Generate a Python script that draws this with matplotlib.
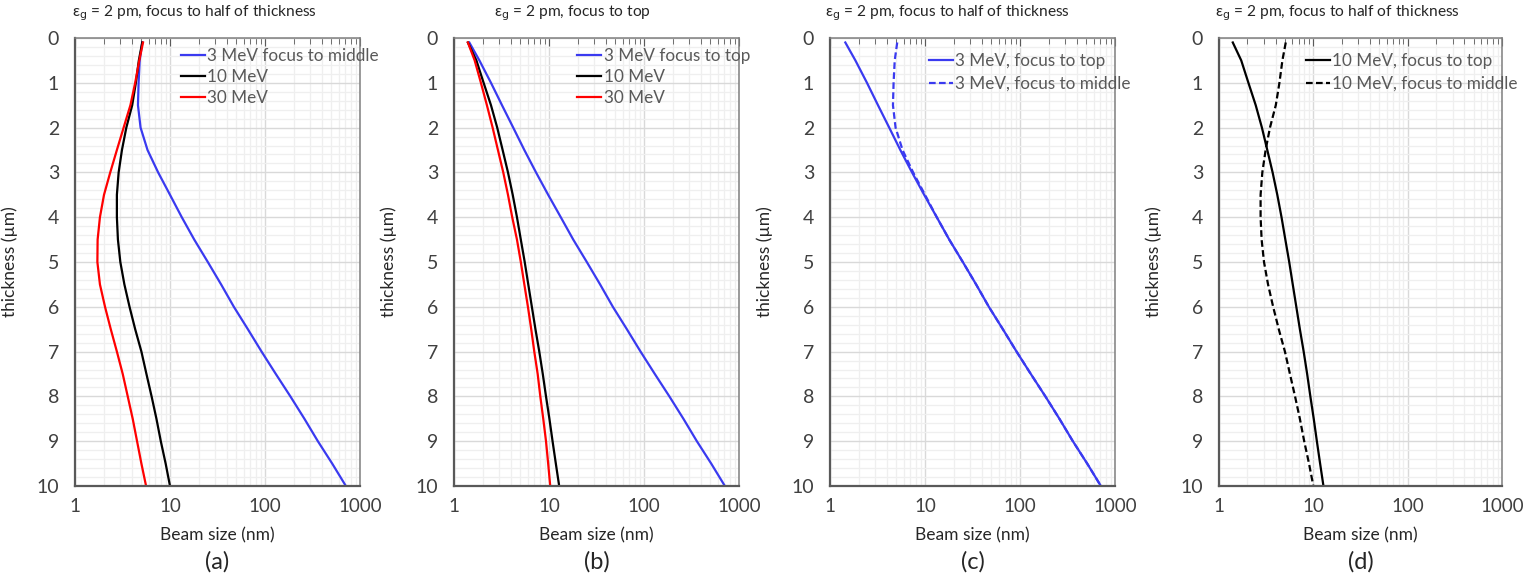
import matplotlib
matplotlib.use("Agg")
import matplotlib.pyplot as plt
from matplotlib.ticker import LogLocator, NullFormatter, FixedLocator, MultipleLocator

plt.rcParams['font.family'] = ['Lato', 'DejaVu Sans']

# thickness (µm)
thickness = [0.1, 0.5, 1.0, 1.5, 2.0, 2.5, 3.0, 3.5, 4.0, 4.5, 5.0,
             5.5, 6.0, 6.5, 7.0, 7.5, 8.0, 8.5, 9.0, 9.5, 10.0]

# beam size (nm)
mev3_middle = [5.1, 4.8, 4.67, 4.6, 4.9, 5.8, 7.5, 10.0, 13.3, 18.0, 25.0,
               34.5, 47.0, 66.0, 92.0, 130.0, 185.0, 260.0, 360.0, 510.0, 710.0]
mev10_middle = [5.1, 4.7, 4.37, 4.0, 3.47, 3.12, 2.88, 2.76, 2.76, 2.83, 3.0,
                3.31, 3.75, 4.3, 5.0, 5.65, 6.4, 7.2, 8.0, 9.0, 10.0]
mev30_middle = [5.2, 4.75, 4.3, 3.83, 3.25, 2.76, 2.35, 2.02, 1.83, 1.73, 1.72,
                1.83, 2.07, 2.38, 2.76, 3.18, 3.59, 4.05, 4.5, 5.0, 5.6]
mev3_top = [1.45, 1.85, 2.45, 3.2, 4.2, 5.5, 7.3, 9.8, 13.3, 18.0, 25.0,
            34.5, 47.0, 66.0, 92.0, 130.0, 185.0, 260.0, 360.0, 510.0, 710.0]
mev10_top = [1.4, 1.72, 2.05, 2.45, 2.85, 3.25, 3.7, 4.15, 4.6, 5.05, 5.55,
             6.05, 6.6, 7.2, 7.9, 8.6, 9.3, 10.1, 10.9, 11.8, 12.8]
mev30_top = [1.4, 1.65, 1.92, 2.22, 2.55, 2.9, 3.3, 3.7, 4.1, 4.6, 5.05,
             5.5, 6.0, 6.5, 7.0, 7.6, 8.1, 8.7, 9.3, 9.8, 10.3]

x_ticks = [1, 10, 100, 1000]
y_ticks = list(range(0, 11))
panel_letters = ['(a)', '(b)', '(c)', '(d)']
titles = ['ε$_{\\mathrm{g}}$ = 2 pm, focus to half of thickness',
          'ε$_{\\mathrm{g}}$ = 2 pm, focus to top',
          'ε$_{\\mathrm{g}}$ = 2 pm, focus to half of thickness',
          'ε$_{\\mathrm{g}}$ = 2 pm, focus to half of thickness']

BLUE = '#3a3af0'
RED = '#ff0000'
BLACK = '#000000'

W, H = 1536, 582
fig = plt.figure(figsize=(W / 100, H / 100), dpi=100)

ax_px = [(75, 360), (454, 739), (830, 1115), (1219, 1502)]
top_px, bot_px = 38, 486
title_x = [-0.01, 0.14, -0.018, -0.014]
legend_x = [0.36, 0.42, 0.335, 0.295]
legend_y = [0.985, 0.985, 0.975, 0.975]

axes = []
for i, (l, r) in enumerate(ax_px):
    ax = fig.add_axes([l / W, (H - bot_px) / H, (r - l) / W, (bot_px - top_px) / H])
    axes.append(ax)

series = [
    [(mev3_middle, BLUE, '-', '3 MeV focus to middle'),
     (mev10_middle, BLACK, '-', '10 MeV'),
     (mev30_middle, RED, '-', '30 MeV')],
    [(mev3_top, BLUE, '-', '3 MeV focus to top'),
     (mev10_top, BLACK, '-', '10 MeV'),
     (mev30_top, RED, '-', '30 MeV')],
    [(mev3_top, BLUE, '-', '3 MeV, focus to top'),
     (mev3_middle, BLUE, '--', '3 MeV, focus to middle')],
    [(mev10_top, BLACK, '-', '10 MeV, focus to top'),
     (mev10_middle, BLACK, '--', '10 MeV, focus to middle')],
]

for i, ax in enumerate(axes):
    for vals, c, ls, lab in series[i]:
        ax.plot(vals, thickness, color=c, ls=ls, lw=1.6, label=lab,
                dashes=(3, 1.5) if ls == '--' else (None, None))
    ax.set_xscale('log')
    ax.set_xlim(1, 1000)
    ax.set_ylim(10, 0)
    ax.xaxis.set_major_locator(FixedLocator(x_ticks))
    ax.set_xticklabels([str(v) for v in x_ticks])
    ax.xaxis.set_minor_locator(LogLocator(base=10, subs=range(2, 10)))
    ax.xaxis.set_minor_formatter(NullFormatter())
    ax.yaxis.set_major_locator(FixedLocator(y_ticks))
    ax.yaxis.set_minor_locator(MultipleLocator(0.2))
    ax.grid(which='major', color='#d9d9d9', lw=1.0)
    ax.grid(which='minor', color='#efefef', lw=0.9)
    ax.set_axisbelow(True)
    ax.tick_params(axis='x', which='both', bottom=False, top=True, direction='in',
                   labelbottom=True, labeltop=False, colors='#595959',
                   labelcolor='#404040', labelsize=13.5, pad=9)
    ax.tick_params(axis='x', which='major', length=6)
    ax.tick_params(axis='x', which='minor', length=4)
    ax.tick_params(axis='y', which='both', left=False, right=False,
                   labelcolor='#404040', labelsize=14, pad=8)
    for s in ['left', 'bottom']:
        ax.spines[s].set_color('#595959')
        ax.spines[s].set_linewidth(1.6)
    for s in ['top', 'right']:
        ax.spines[s].set_color('#7f7f7f')
        ax.spines[s].set_linewidth(1.1)
    ax.set_ylabel('thickness (µm)', fontsize=12.5, color='#262626')
    ax.yaxis.set_label_coords(-57 / 285, 0.5)
    ax.set_xlabel('Beam size (nm)', fontsize=12.5, color='#262626')
    ax.xaxis.set_label_coords(0.5, -49 / 448)
    ax.xaxis.label.set_va('center')
    ax.text(0.5, -76 / 448, panel_letters[i], transform=ax.transAxes,
            ha='center', va='center', fontsize=17, color='#262626')
    ax.text(title_x[i], 1 + 25 / 448, titles[i], transform=ax.transAxes,
            ha='left', va='center', fontsize=11.2, color='#262626')
    leg = ax.legend(loc='upper left', bbox_to_anchor=(legend_x[i], legend_y[i]),
                    frameon=False, fontsize=12.3, handlelength=1.4,
                    handletextpad=0.15, borderaxespad=0.0, borderpad=0.2,
                    labelspacing=0.3 if i < 2 else 0.42)
    for t in leg.get_texts():
        t.set_color('#595959')

fig.savefig('out.png', dpi=100)
